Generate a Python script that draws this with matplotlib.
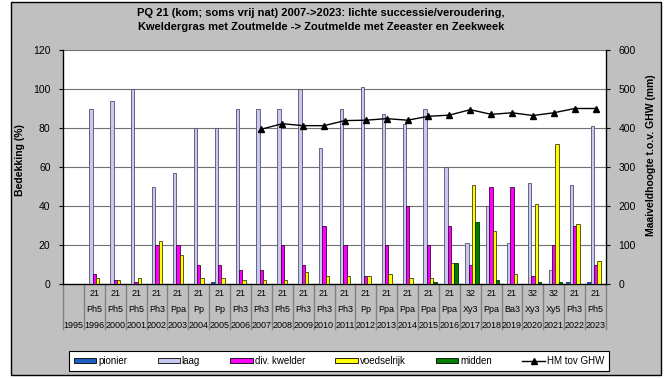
# plot.py
# PQ 21 bedekking + maaiveldhoogte, Excel-style combo chart

import numpy as np
import matplotlib.pyplot as plt
import matplotlib.patches as patches
from matplotlib.transforms import blended_transform_factory
from matplotlib.lines import Line2D

plt.rcParams['font.family'] = ['Liberation Sans', 'DejaVu Sans']

# ── data ──
years = ['1995', '1996', '2000', '2001', '2002', '2003', '2004', '2005', '2006',
         '2007', '2008', '2009', '2010', '2011', '2012', '2013', '2014', '2015',
         '2016', '2017', '2018', '2019', '2020', '2021', '2022', '2023']
pq = ['', '21', '21', '21', '21', '21', '21', '21', '21', '21', '21', '21', '21',
      '21', '21', '21', '21', '21', '21', '32', '21', '21', '32', '32', '21', '21']
veg = ['', 'Ph5', 'Ph5', 'Ph5', 'Ph3', 'Ppa', 'Pp', 'Pp', 'Ph3', 'Ph3', 'Ph5',
       'Ph3', 'Ph3', 'Ph3', 'Pp', 'Ppa', 'Ppa', 'Ppa', 'Ppa', 'Xy3', 'Ppa', 'Ba3',
       'Xy3', 'Xy5', 'Ph3', 'Ph5']

pionier = [0, 0, 0, 0, 0, 0, 0, 1, 0, 0, 0, 0, 0, 0, 0, 0, 0, 0, 0, 0, 0, 0, 0, 0, 1, 1]
laag = [0, 90, 94, 100, 50, 57, 80, 80, 90, 90, 90, 100, 70, 90, 101, 87, 82, 90,
        60, 21, 40, 21, 52, 7, 51, 81]
div_kwelder = [0, 5, 2, 1, 20, 20, 10, 10, 7, 7, 20, 10, 30, 20, 4, 20, 40, 20,
               30, 10, 50, 50, 4, 20, 30, 10]
voedselrijk = [0, 3, 2, 3, 22, 15, 3, 3, 2, 2, 2, 6, 4, 4, 4, 5, 3, 3,
               11, 51, 27, 5, 41, 72, 31, 12]
midden = [0, 0, 0, 0, 0, 0, 0, 0, 0, 0, 0, 0, 0, 0, 0, 0, 0, 1,
          11, 32, 2, 0, 1, 1, 0, 0]
hm_years = ['2007', '2008', '2009', '2010', '2011', '2012', '2013', '2014', '2015',
            '2016', '2017', '2018', '2019', '2020', '2021', '2022', '2023']
hm = [397, 411, 406, 406, 419, 420, 424, 420, 430, 433, 447, 435, 439, 432, 439, 450, 450]

W, H = 667, 379
fig = plt.figure(figsize=(W / 100, H / 100), dpi=100, facecolor='white')

# grey chart area with black frame
fig.patches.append(patches.Rectangle((11 / W, 1 - 375 / H), 650 / W, 373 / H,
                                     transform=fig.transFigure, facecolor='#C0C0C0',
                                     edgecolor='black', linewidth=1, zorder=-5))

ax = fig.add_axes([63 / W, 1 - 284 / H, 543 / W, 234 / H])
ax.set_facecolor('white')

x = np.arange(len(years))
bw = 0.16
series = [
    (pionier, 'pionier', '#1F5FC0', '#102050'),
    (laag, 'laag', '#C8C8F0', '#505070'),
    (div_kwelder, 'div. kwelder', '#FF00FF', '#400040'),
    (voedselrijk, 'voedselrijk', '#FFFF00', '#404000'),
    (midden, 'midden', '#008000', '#003000'),
]
handles = []
for k, (vals, name, fc, ec) in enumerate(series):
    v = np.array(vals, dtype=float)
    v[v == 0] = np.nan
    ax.bar(x + (k - 2) * bw, v, width=bw, color=fc, edgecolor=ec, linewidth=0.6, zorder=3)
    handles.append(patches.Patch(facecolor=fc, edgecolor='black', linewidth=0.6, label=name))

ax.set_xlim(-0.5, len(years) - 0.5)
ax.set_ylim(0, 120)
ax.set_yticks(np.arange(0, 121, 20))
ax.yaxis.grid(True, color='#707070', linewidth=0.8, zorder=0)
ax.set_axisbelow(True)
ax.set_xticks([])
ax.tick_params(axis='y', labelsize=7.5, length=3, direction='out', colors='black', pad=6)
ax.spines['top'].set_visible(False)
for s in ['left', 'right', 'bottom']:
    ax.spines[s].set_color('black')
    ax.spines[s].set_linewidth(0.9)
ax.set_ylabel('Bedekking (%)', fontsize=7.5, fontweight='bold')
ax.yaxis.set_label_coords(-0.07, 0.53)

# right axis with height line
ax2 = ax.twinx()
ax2.set_ylim(0, 600)
ax2.set_yticks(np.arange(0, 601, 100))
ax2.tick_params(axis='y', labelsize=7.5, length=3, direction='out', pad=6)
ax2.spines['top'].set_visible(False)
ax2.set_ylabel('Maaiveldhoogte t.o.v. GHW (mm)', fontsize=7.5, fontweight='bold')
ax2.yaxis.set_label_coords(1.074, 0.55)
hx = [years.index(y) for y in hm_years]
ax2.plot(hx, hm, color='black', linewidth=1, marker='^', markersize=5, zorder=5)

# multi-level category axis
tr = blended_transform_factory(ax.transData, ax.transAxes)
ph = 234.0
for i in range(len(years) + 1):
    ax.plot([i - 0.5, i - 0.5], [0, -45 / ph], color='#808080', linewidth=1,
            transform=tr, clip_on=False)
for i in range(len(years)):
    ax.text(i, -10 / ph, pq[i], transform=tr, ha='center', va='center', fontsize=6.5)
    ax.text(i, -25 / ph, veg[i], transform=tr, ha='center', va='center', fontsize=6.5)
    ax.text(i, -41 / ph, years[i], transform=tr, ha='center', va='center', fontsize=6.5)

# title
fig.text(321 / W, 1 - 13 / H, 'PQ 21 (kom; soms vrij nat) 2007->2023: lichte successie/veroudering,',
         ha='center', va='center', fontsize=8, fontweight='bold')
fig.text(321 / W, 1 - 27 / H, 'Kweldergras met Zoutmelde -> Zoutmelde met Zeeaster en Zeekweek',
         ha='center', va='center', fontsize=8, fontweight='bold')

# legend
handles.append(Line2D([], [], color='black', linewidth=1, marker='^', markersize=5,
                      label='HM tov GHW'))
leg = fig.legend(handles=handles, loc='lower left', ncol=6, mode='expand',
                 bbox_to_anchor=(69 / W, 1 - 371 / H, 540 / W, 23 / H),
                 fontsize=7, frameon=True, fancybox=False, edgecolor='black',
                 facecolor='white', framealpha=1, handlelength=2.3, handleheight=0.5,
                 handletextpad=0.2, borderaxespad=0, borderpad=0.5)
leg.get_frame().set_linewidth(0.8)

plt.savefig('out.png', dpi=100, facecolor='white')
plt.close()
